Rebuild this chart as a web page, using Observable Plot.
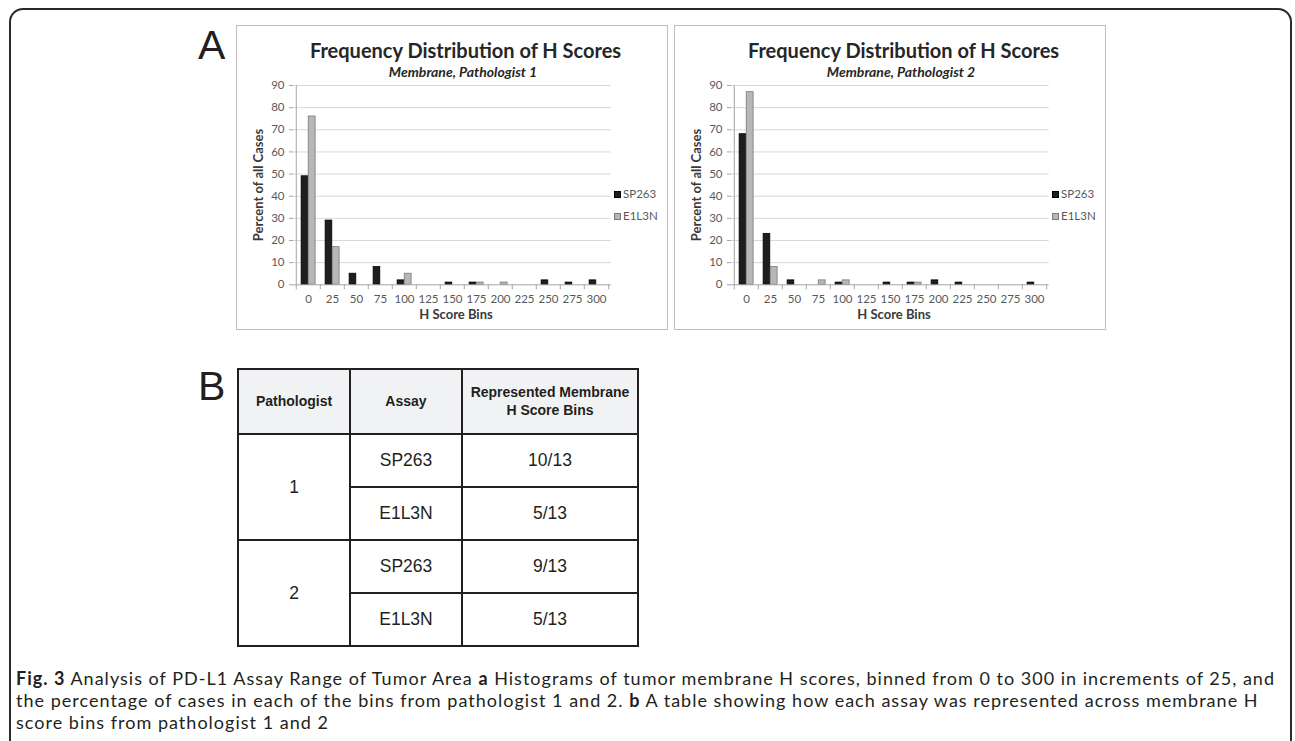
<!DOCTYPE html>
<html><head><meta charset="utf-8">
<script src="https://cdn.jsdelivr.net/npm/d3@7"></script>
<script src="https://cdn.jsdelivr.net/npm/@observablehq/plot@0.6"></script>
<style>
body{margin:0;background:#fff;width:1295px;height:741px;overflow:hidden;position:relative;font-family:"Liberation Sans",Arial,sans-serif;color:#231f20;}
#outer{position:absolute;left:9px;top:8px;width:1283px;height:790px;border:2px solid #2a2a2a;border-radius:14px;box-sizing:border-box;}
.panel{position:absolute;width:432px;height:305px;}
.frame{position:absolute;left:0;top:0;right:0;bottom:0;border:1.5px solid #bdbdbd;box-sizing:border-box;}
.panel svg{position:absolute;left:0;top:0;}
.ctr{position:absolute;transform:translate(-50%,-50%);white-space:nowrap;line-height:1;}
.title{font-family:Lato;font-weight:bold;font-size:20px;color:#262626;}
.sub{font-family:Lato;font-weight:bold;font-style:italic;font-size:14px;color:#262626;}
.axl{font-family:Lato;font-weight:bold;font-size:13px;color:#3a3a3a;}
.leg{position:absolute;font-family:Lato;font-size:11.5px;color:#595959;line-height:1;white-space:nowrap;}
.sw{display:inline-block;width:7px;height:7px;margin-right:2px;vertical-align:0px;box-sizing:border-box;}
.big{position:absolute;font-family:"Liberation Sans",Arial,sans-serif;font-size:41px;line-height:1;color:#231f20;}
#tbl{position:absolute;left:237px;top:368px;border-collapse:collapse;table-layout:fixed;width:400px;}
#tbl td{border:2px solid #231f20;text-align:center;vertical-align:middle;padding:0;font-size:17.5px;}
#tbl tr.hd td{background:#f1f2f4;font-weight:bold;font-size:14px;height:63px;line-height:1.25;}
#tbl tr.bd td{height:51px;}
#cap{position:absolute;left:16px;top:667px;font-family:Lato;font-size:17px;color:#231f20;line-height:22px;white-space:nowrap;}
#cap > div{display:inline-block;}
#cap b{font-weight:bold;}
</style></head>
<body>
<div id="outer"></div>
<div class="big" style="left:198px;top:25px">A</div>
<div class="big" style="left:198px;top:366px">B</div>
<div id="p1" class="panel" style="left:236px;top:25px"><div class="frame"></div></div>
<div id="p2" class="panel" style="left:674px;top:25px"><div class="frame"></div></div>
<table id="tbl"></table>
<div id="cap"></div>
<script>
// ---- data ----
const bins = ["0","25","50","75","100","125","150","175","200","225","250","275","300"];
const yTicks = [0,10,20,30,40,50,60,70,80,90];
const seriesNames = ["SP263","E1L3N"];
const p1SP263 = [49,29,5,8,2,0,1,1,0,0,2,1,2];
const p1E1L3N = [76,17,0,0,5,0,0,1,1,0,0,0,0];
const p2SP263 = [68,23,2,0,1,0,1,1,2,1,0,0,1];
const p2E1L3N = [87,8,0,2,2,0,0,1,0,0,0,0,0];
const chartTitle = "Frequency Distribution of H Scores";
const subtitles = ["Membrane, Pathologist 1","Membrane, Pathologist 2"];
const yLabel = "Percent of all Cases";
const xLabel = "H Score Bins";
const tableHeaders = [["Pathologist"],["Assay"],["Represented Membrane","H Score Bins"]];
const pathologists = ["1","2"];
const assays = ["SP263","E1L3N"];
const represented = [["10/13","5/13"],["9/13","5/13"]];
const captionLines = [
  [["b","Fig. 3"],["t"," Analysis of PD-L1 Assay Range of Tumor Area "],["b","a"],["t"," Histograms of tumor membrane H scores, binned from 0 to 300 in increments of 25, and"]],
  [["t","the percentage of cases in each of the bins from pathologist 1 and 2. "],["b","b"],["t"," A table showing how each assay was represented across membrane H"]],
  [["t","score bins from pathologist 1 and 2"]]
];

const colors = {SP263:{fill:"#1e1e1e",stroke:"#000"}, E1L3N:{fill:"#b7b7b7",stroke:"#7a7a7a"}};

function chart(sp, e1){
  const W=432,H=305, ml=57, mr=57.3, mt=60, mb=45.7;
  const bw=(W-ml-mr)/bins.length;
  const ih=H-mt-mb;
  const rows = bins.map((b,i)=>({bin:b, sp:sp[i], e1:e1[i]}));
  const tick = -5*90/ih;
  return Plot.plot({
    width:W, height:H, marginLeft:ml, marginRight:mr, marginTop:mt, marginBottom:mb,
    x:{type:"band", domain:bins, padding:0},
    y:{domain:[0,90]},
    style:{fontFamily:"Lato", background:"transparent", overflow:"visible"},
    marks:[
      Plot.ruleY(yTicks.filter(d=>d>0), {stroke:"#d9d9d9", strokeWidth:1}),
      Plot.barY(rows.filter(d=>d.sp>0), {x:"bin", y:"sp", fill:colors.SP263.fill, stroke:colors.SP263.stroke, strokeWidth:0.8, insetLeft:0.21*bw, insetRight:0.5*bw}),
      Plot.barY(rows.filter(d=>d.e1>0), {x:"bin", y:"e1", fill:colors.E1L3N.fill, stroke:colors.E1L3N.stroke, strokeWidth:0.8, insetLeft:0.5*bw, insetRight:0.2*bw}),
      Plot.ruleY([0], {stroke:"#a6a6a6"}),
      Plot.ruleX([bins[0]], {dx:-bw/2, y1:0, y2:90, stroke:"#a6a6a6"}),
      Plot.ruleX(bins, {dx:-bw/2, y1:0, y2:tick, stroke:"#a6a6a6"}),
      Plot.ruleX([bins[bins.length-1]], {dx:bw/2, y1:0, y2:tick, stroke:"#a6a6a6"}),
      Plot.axisY({ticks:yTicks, tickSize:4, tickPadding:5, fontSize:11.5, stroke:"#a6a6a6", fill:"#595959", label:null, tickFormat:d=>String(d)}),
      Plot.axisX({tickSize:0, tickPadding:10, fontSize:11.5, fill:"#595959", label:null})
    ]
  });
}

function addText(parent, cls, txt, x, y, rot){
  const d=document.createElement("div");
  d.className=cls+" ctr"; d.textContent=txt;
  d.style.left=x+"px"; d.style.top=y+"px";
  if(rot) d.style.transform="translate(-50%,-50%) rotate(-90deg)";
  parent.appendChild(d); return d;
}

[[p1SP263,p1E1L3N,"p1",0],[p2SP263,p2E1L3N,"p2",1]].forEach(([sp,e1,id,k])=>{
  const p=document.getElementById(id);
  p.appendChild(chart(sp,e1));
  addText(p,"title",chartTitle,229.5,25);
  addText(p,"sub",subtitles[k],227,47);
  addText(p,"axl",yLabel,22,160,true);
  addText(p,"axl",xLabel,220,289);
  seriesNames.forEach((s,j)=>{
    const l=document.createElement("div"); l.className="leg";
    l.style.left="378px"; l.style.top=(163+j*22)+"px";
    const sw=document.createElement("span"); sw.className="sw";
    sw.style.background=colors[s].fill; sw.style.border="1px solid "+colors[s].stroke;
    l.appendChild(sw); l.appendChild(document.createTextNode(s));
    p.appendChild(l);
  });
});

// table
const tbl=document.getElementById("tbl");
const cg=document.createElement("colgroup");
[112,112,176].forEach(w=>{const c=document.createElement("col");c.style.width=w+"px";cg.appendChild(c);});
tbl.appendChild(cg);
const hr=document.createElement("tr"); hr.className="hd";
tableHeaders.forEach(h=>{const td=document.createElement("td"); h.forEach((line,i)=>{if(i)td.appendChild(document.createElement("br")); td.appendChild(document.createTextNode(line));}); hr.appendChild(td);});
tbl.appendChild(hr);
pathologists.forEach((p,i)=>{
  assays.forEach((a,j)=>{
    const tr=document.createElement("tr"); tr.className="bd";
    if(j===0){const td=document.createElement("td"); td.rowSpan=assays.length; td.textContent=p; tr.appendChild(td);}
    const ta=document.createElement("td"); ta.textContent=a; tr.appendChild(ta);
    const tv=document.createElement("td"); tv.textContent=represented[i][j]; tr.appendChild(tv);
    tbl.appendChild(tr);
  });
});

// caption
const cap=document.getElementById("cap");
captionLines.forEach(line=>{
  const d=document.createElement("div");
  line.forEach(([t,s])=>{const e=document.createElement(t==="b"?"b":"span"); e.textContent=s; d.appendChild(e);});
  cap.appendChild(d);
  cap.appendChild(document.createElement("br"));
});
const first=cap.firstChild;
const w1=first.getBoundingClientRect().width;
let fs=Math.min(18, 17*1259/w1);
cap.style.fontSize=fs.toFixed(2)+"px";
const w2=first.getBoundingClientRect().width;
const n=first.textContent.length;
if(w2<1259) cap.style.letterSpacing=((1259-w2)/n).toFixed(3)+"px";
</script>
</body></html>
